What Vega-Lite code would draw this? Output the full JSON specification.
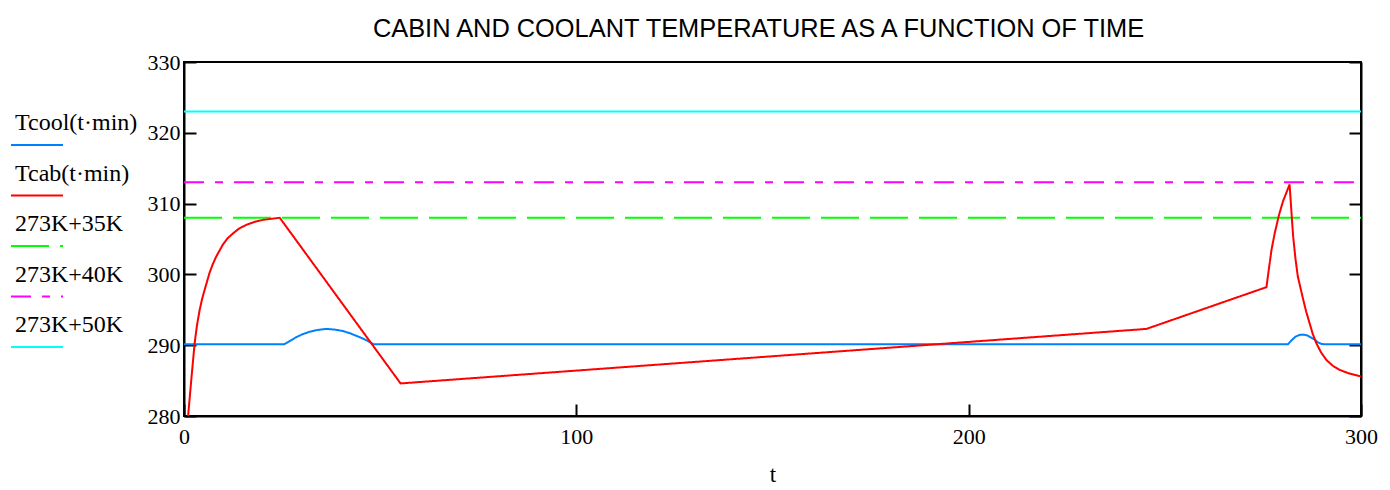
{
  "$schema": "https://vega.github.io/schema/vega-lite/v6.json",
  "autosize": "none",
  "width": 1177,
  "height": 354,
  "padding": {"left": 184, "top": 62, "right": 29, "bottom": 74},
  "background": "white",
  "config": {
    "view": {"stroke": "black", "strokeWidth": 2},
    "font": "Liberation Serif"
  },
  "title": {
    "text": "CABIN AND COOLANT TEMPERATURE AS A FUNCTION OF TIME",
    "font": "Liberation Sans",
    "fontSize": 25.4,
    "fontWeight": "normal",
    "color": "black",
    "anchor": "middle",
    "frame": "group",
    "baseline": "alphabetic",
    "dx": -14,
    "offset": -11
  },
  "data": {
    "values": [
      {"series": "273K+35K", "t": 0, "T": 308},
      {"series": "273K+35K", "t": 300, "T": 308},
      {"series": "273K+40K", "t": 0, "T": 313},
      {"series": "273K+40K", "t": 300, "T": 313},
      {"series": "273K+50K", "t": 0, "T": 323},
      {"series": "273K+50K", "t": 300, "T": 323},
      {"series": "Tcool(t·min)", "t": 0, "T": 290.15},
      {"series": "Tcool(t·min)", "t": 25.6, "T": 290.15},
      {"series": "Tcool(t·min)", "t": 27, "T": 290.6},
      {"series": "Tcool(t·min)", "t": 28.5, "T": 291.1},
      {"series": "Tcool(t·min)", "t": 30, "T": 291.5},
      {"series": "Tcool(t·min)", "t": 32, "T": 291.9},
      {"series": "Tcool(t·min)", "t": 34, "T": 292.15},
      {"series": "Tcool(t·min)", "t": 36.3, "T": 292.3},
      {"series": "Tcool(t·min)", "t": 38.5, "T": 292.2},
      {"series": "Tcool(t·min)", "t": 40.5, "T": 292.0},
      {"series": "Tcool(t·min)", "t": 42.5, "T": 291.65},
      {"series": "Tcool(t·min)", "t": 44.5, "T": 291.2},
      {"series": "Tcool(t·min)", "t": 46.5, "T": 290.7},
      {"series": "Tcool(t·min)", "t": 48.2, "T": 290.15},
      {"series": "Tcool(t·min)", "t": 281.4, "T": 290.15},
      {"series": "Tcool(t·min)", "t": 282.3, "T": 290.7},
      {"series": "Tcool(t·min)", "t": 283.3, "T": 291.2},
      {"series": "Tcool(t·min)", "t": 284.3, "T": 291.45},
      {"series": "Tcool(t·min)", "t": 285.2, "T": 291.5},
      {"series": "Tcool(t·min)", "t": 286.2, "T": 291.4},
      {"series": "Tcool(t·min)", "t": 287.2, "T": 291.1},
      {"series": "Tcool(t·min)", "t": 288.2, "T": 290.8},
      {"series": "Tcool(t·min)", "t": 289.0, "T": 290.4},
      {"series": "Tcool(t·min)", "t": 289.8, "T": 290.2},
      {"series": "Tcool(t·min)", "t": 290.4, "T": 290.15},
      {"series": "Tcool(t·min)", "t": 300, "T": 290.15},
      {"series": "Tcab(t·min)", "t": 1.0, "T": 279.7},
      {"series": "Tcab(t·min)", "t": 2.0, "T": 286.0},
      {"series": "Tcab(t·min)", "t": 2.7, "T": 290.2},
      {"series": "Tcab(t·min)", "t": 3.3, "T": 292.8},
      {"series": "Tcab(t·min)", "t": 4.0, "T": 295.0},
      {"series": "Tcab(t·min)", "t": 4.6, "T": 296.5},
      {"series": "Tcab(t·min)", "t": 5.25, "T": 297.8},
      {"series": "Tcab(t·min)", "t": 6.5, "T": 300.2},
      {"series": "Tcab(t·min)", "t": 7.3, "T": 301.4},
      {"series": "Tcab(t·min)", "t": 8.2, "T": 302.5},
      {"series": "Tcab(t·min)", "t": 9.9, "T": 304.2},
      {"series": "Tcab(t·min)", "t": 11.1, "T": 305.1},
      {"series": "Tcab(t·min)", "t": 12.5, "T": 305.8},
      {"series": "Tcab(t·min)", "t": 14.1, "T": 306.5},
      {"series": "Tcab(t·min)", "t": 15.9, "T": 307.0},
      {"series": "Tcab(t·min)", "t": 17.9, "T": 307.4},
      {"series": "Tcab(t·min)", "t": 20.1, "T": 307.7},
      {"series": "Tcab(t·min)", "t": 24.4, "T": 308.0},
      {"series": "Tcab(t·min)", "t": 55.2, "T": 284.6},
      {"series": "Tcab(t·min)", "t": 245.3, "T": 292.3},
      {"series": "Tcab(t·min)", "t": 275.9, "T": 298.2},
      {"series": "Tcab(t·min)", "t": 276.6, "T": 301.1},
      {"series": "Tcab(t·min)", "t": 277.2, "T": 303.5},
      {"series": "Tcab(t·min)", "t": 278.0, "T": 305.8},
      {"series": "Tcab(t·min)", "t": 279.1, "T": 308.4},
      {"series": "Tcab(t·min)", "t": 280.1, "T": 310.3},
      {"series": "Tcab(t·min)", "t": 281.8, "T": 312.7},
      {"series": "Tcab(t·min)", "t": 282.3, "T": 308.6},
      {"series": "Tcab(t·min)", "t": 282.7, "T": 305.4},
      {"series": "Tcab(t·min)", "t": 283.3, "T": 302.2},
      {"series": "Tcab(t·min)", "t": 283.9, "T": 299.7},
      {"series": "Tcab(t·min)", "t": 285.2, "T": 296.6},
      {"series": "Tcab(t·min)", "t": 286.0, "T": 294.8},
      {"series": "Tcab(t·min)", "t": 286.9, "T": 293.1},
      {"series": "Tcab(t·min)", "t": 287.7, "T": 291.6},
      {"series": "Tcab(t·min)", "t": 288.6, "T": 290.3},
      {"series": "Tcab(t·min)", "t": 289.8, "T": 289.0},
      {"series": "Tcab(t·min)", "t": 291.2, "T": 287.9},
      {"series": "Tcab(t·min)", "t": 292.8, "T": 287.1},
      {"series": "Tcab(t·min)", "t": 294.6, "T": 286.5},
      {"series": "Tcab(t·min)", "t": 297.0, "T": 286.0},
      {"series": "Tcab(t·min)", "t": 300, "T": 285.6}
    ]
  },
  "layer": [
    {
      "mark": {"type": "line", "strokeWidth": 2, "clip": true},
      "encoding": {
        "x": {
          "field": "t", "type": "quantitative",
          "scale": {"domain": [0, 300], "nice": false, "zero": false},
          "axis": {
            "values": [0, 100, 200, 300], "grid": false,
            "tickSize": -12, "tickWidth": 2, "tickColor": "black",
            "domainColor": "black", "domainWidth": 2,
            "labelFont": "Liberation Serif", "labelFontSize": 22, "labelColor": "black",
            "labelPadding": 22, "labelFlush": false,
            "title": "t", "titleFont": "Liberation Serif", "titleFontSize": 23,
            "titleFontWeight": "normal", "titleColor": "black", "titlePadding": 16
          }
        },
        "y": {
          "field": "T", "type": "quantitative",
          "scale": {"domain": [280, 330], "nice": false, "zero": false},
          "axis": {
            "values": [280, 290, 300, 310, 320, 330], "grid": false,
            "tickSize": -12, "tickWidth": 2, "tickColor": "black",
            "domainColor": "black", "domainWidth": 2,
            "labelFont": "Liberation Serif", "labelFontSize": 22, "labelColor": "black",
            "labelPadding": 16, "labelFlush": false, "title": null
          }
        },
        "color": {
          "field": "series", "type": "nominal",
          "scale": {
            "domain": ["Tcool(t·min)", "Tcab(t·min)", "273K+35K", "273K+40K", "273K+50K"],
            "range": ["#0080ff", "#ff0000", "#00ff00", "#ff00ff", "#00ffff"]
          },
          "legend": {
            "orient": "none", "legendX": -174, "legendY": 56, "title": null,
            "padding": 0, "symbolType": "stroke", "symbolSize": 2704,
            "symbolStrokeWidth": 2, "labelFont": "Liberation Serif",
            "labelFontSize": 24, "labelColor": "black", "labelOffset": -49,
            "labelBaseline": "alphabetic", "labelLimit": 300, "rowPadding": 12.5,
            "encode": {"labels": {"update": {"dy": {"value": -15}}}}
          }
        },
        "strokeDash": {
          "field": "series", "type": "nominal",
          "scale": {
            "domain": ["Tcool(t·min)", "Tcab(t·min)", "273K+35K", "273K+40K", "273K+50K"],
            "range": [[1, 0], [1, 0], [38, 11], [20, 11, 8, 11], [1, 0]]
          },
          "legend": {
            "orient": "none", "legendX": -174, "legendY": 56, "title": null,
            "padding": 0, "symbolType": "stroke", "symbolSize": 2704,
            "symbolStrokeWidth": 2, "labelFont": "Liberation Serif",
            "labelFontSize": 24, "labelColor": "black", "labelOffset": -49,
            "labelBaseline": "alphabetic", "labelLimit": 300, "rowPadding": 12.5,
            "encode": {"labels": {"update": {"dy": {"value": -15}}}}
          }
        }
      }
    },
    {
      "mark": {"type": "line", "strokeOpacity": 0},
      "encoding": {
        "x": {"field": "t", "type": "quantitative"},
        "y": {
          "field": "T", "type": "quantitative",
          "axis": {
            "orient": "right", "values": [280, 290, 300, 310, 320, 330], "grid": false,
            "tickSize": -12, "tickWidth": 2, "tickColor": "black",
            "domainColor": "black", "domainWidth": 2, "labels": false, "title": null
          }
        },
        "detail": {"field": "series"}
      }
    }
  ],
  "resolve": {"axis": {"y": "independent"}}
}
